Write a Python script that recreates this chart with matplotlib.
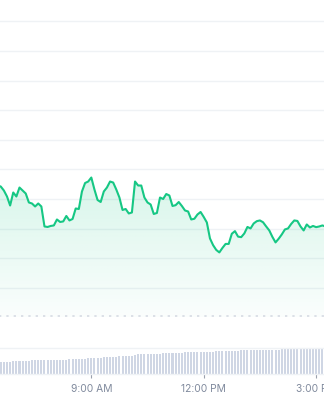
import numpy as np
import matplotlib
matplotlib.use("Agg")
import matplotlib.pyplot as plt

# ---------------- data ----------------
start_hour = 6.5          # first sample 6:30 AM
step_minutes = 5

price = [4.452, 4.418, 4.283, 4.081, 3.777, 4.216, 4.081, 4.384, 4.283, 4.182,
         3.879, 3.845, 3.744, 3.845, 3.744, 3.069, 3.052, 3.086, 3.103, 3.305,
         3.221, 3.238, 3.423, 3.272, 3.322, 3.676, 3.659, 4.250, 4.536, 4.587,
         4.722, 4.317, 3.963, 3.895, 4.250, 4.384, 4.587, 4.553, 4.317, 4.047,
         3.626, 3.659, 3.508, 3.541, 4.587, 4.452, 4.452, 4.047, 3.879, 3.811,
         3.491, 3.524, 4.047, 3.997, 4.165, 4.115, 3.761, 3.788, 3.895, 3.761,
         3.609, 3.575, 3.305, 3.329, 3.474, 3.558, 3.390, 3.204, 2.664, 2.438,
         2.277, 2.192, 2.344, 2.479, 2.479, 2.823, 2.911, 2.725, 2.708, 2.833,
         3.052, 3.002, 3.170, 3.248, 3.272, 3.211, 3.069, 2.934, 2.715, 2.530,
         2.654, 2.799, 2.968, 3.002, 3.153, 3.272, 3.255, 3.069, 2.934, 3.137,
         3.035, 3.086, 3.046, 3.069, 3.103, 3.069]

volume = [11.4, 11.4, 11.4, 11.4, 11.4, 12.4, 12.4, 12.4, 12.4, 12.4,
          12.4, 13.4, 13.4, 13.4, 13.4, 13.4, 13.7, 13.7, 13.7, 13.7,
          13.7, 13.7, 13.7, 14.7, 14.7, 14.7, 14.7, 14.7, 15.0, 15.7,
          15.7, 15.7, 15.7, 15.7, 16.7, 16.7, 16.7, 16.7, 17.0, 17.4,
          17.4, 17.4, 18.0, 18.2, 19.0, 19.4, 19.7, 19.7, 19.7, 19.7,
          19.7, 19.7, 20.0, 20.4, 20.7, 20.7, 20.7, 20.7, 20.7, 21.0,
          21.4, 21.4, 21.4, 21.4, 21.4, 21.4, 21.4, 21.7, 21.7, 21.7,
          22.4, 22.4, 22.4, 22.4, 22.4, 22.4, 23.0, 23.0, 23.4, 23.4,
          23.4, 23.4, 23.4, 23.7, 23.7, 23.7, 23.7, 23.7, 23.7, 23.7,
          23.7, 24.4, 24.4, 24.4, 24.4, 24.4, 24.7, 24.7, 24.7, 24.7,
          24.7, 24.7, 24.7, 24.7, 24.7, 24.7]

tick_hours = [6, 9, 12, 15]
tick_labels = ["6:00 AM", "9:00 AM", "12:00 PM", "3:00 PM"]
grid_levels = [1, 2, 3, 4, 5, 6, 7, 8, 9, 10]

# ---------------- style ----------------
GREEN = "#16c784"
GRID = "#eff2f5"
BAR = "#cfd6e4"
TXT = "#808a9d"
plt.rcParams['font.family'] = ['Inter', 'DejaVu Sans']

t = start_hour + np.arange(len(price)) * step_minutes / 60.0

W, H = 324, 400
fig = plt.figure(figsize=(W / 100, H / 100), dpi=100)

px_per_hour = 37.47
left_px = -30
hour_at_px0 = 6.563
xmin = hour_at_px0 + left_px / px_per_hour
xmax = hour_at_px0 + W / px_per_hour

# price axes: from y=0 to y=317.3 px
p_bottom_px = 317.3
ax = fig.add_axes([left_px / W, (H - p_bottom_px) / H, (W - left_px) / W, p_bottom_px / H])
unit_px = 29.6
ylim_p = (0, p_bottom_px / unit_px)
for s in ax.spines.values():
    s.set_visible(False)
ax.set_xticks([])
ax.set_yticks([])
ax.patch.set_alpha(0)

for g in grid_levels:
    ax.axhline(g, color=GRID, lw=1.0, zorder=0)
ax.axhline(0.03, color="#d3d8e1", lw=1.1, ls=(0, (1.5, 3.3)), zorder=4)

# gradient fill under line
vmax = max(price)
poly = ax.fill_between(t, price, 0, color="none", lw=0)
path = poly.get_paths()[0]
ny = 200
grad = np.zeros((ny, 2, 4))
rgb = matplotlib.colors.to_rgb(GREEN)
grad[..., 0], grad[..., 1], grad[..., 2] = rgb
grad[..., 3] = np.linspace(0.17, 0.02, ny)[:, None]
im = ax.imshow(grad, extent=[t[0], t[-1], 0, vmax], aspect="auto", origin="upper",
               zorder=2, interpolation="bilinear")
im.set_clip_path(path, transform=ax.transData)
ax.set_xlim(xmin, xmax)
ax.set_ylim(*ylim_p)

ax.plot(t, price, color=GREEN, lw=1.5, zorder=3, solid_joinstyle="round")

# volume axes: from y=347.7 to 373.7 px
v_top_px, v_bot_px = 347.7, 373.7
axv = fig.add_axes([left_px / W, (H - v_bot_px) / H, (W - left_px) / W, (v_bot_px - v_top_px) / H])
axv.set_xlim(xmin, xmax)
axv.set_ylim(0, v_bot_px - v_top_px)
axv.bar(t, volume, width=0.65 * step_minutes / 60.0, color=BAR, lw=0, align="center")
for k in ["left", "right"]:
    axv.spines[k].set_visible(False)
axv.spines["top"].set_color(GRID)
axv.spines["bottom"].set_color(GRID)
axv.spines["top"].set_linewidth(1.0)
axv.spines["bottom"].set_linewidth(1.0)
axv.set_yticks([])
axv.set_xticks(tick_hours)
axv.set_xticklabels(tick_labels)
axv.tick_params(axis="x", length=2.6, width=0.8, color="#9aa1ad", pad=4.6,
                labelsize=7.4, labelcolor=TXT)
axv.patch.set_alpha(0)

fig.savefig("out.png", dpi=100)
